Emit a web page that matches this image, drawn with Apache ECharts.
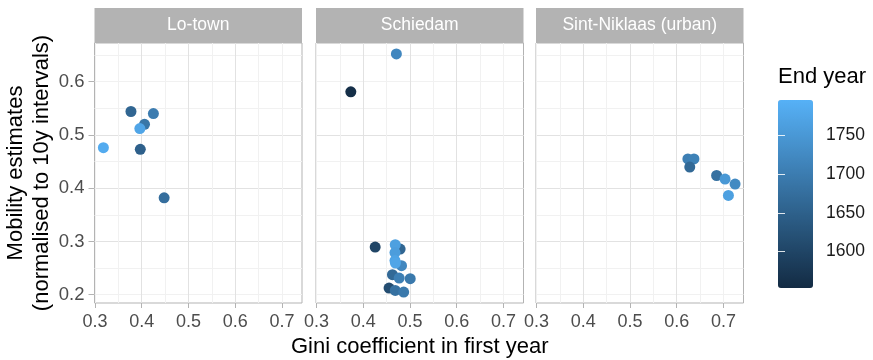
<!DOCTYPE html>
<html><head><meta charset="utf-8">
<script src="https://cdn.jsdelivr.net/npm/echarts@6/dist/echarts.min.js"></script>
<style>html,body{margin:0;padding:0;background:#fff}#c{width:873px;height:360px}</style>
</head><body><div id="c"></div>
<script>
// ---- data ----
const panels = ['Lo-town', 'Schiedam', 'Sint-Niklaas (urban)'];
const xTicks = [0.3, 0.4, 0.5, 0.6, 0.7];
const yTicks = [0.2, 0.3, 0.4, 0.5, 0.6];
const yearTicks = [1600, 1650, 1700, 1750];

const loTownGini = [0.377, 0.425, 0.406, 0.396, 0.318, 0.397, 0.448];
const loTownMob  = [0.544, 0.540, 0.520, 0.512, 0.476, 0.473, 0.382];
const loTownYear = [1660, 1700, 1690, 1775, 1785, 1650, 1675];

const schiedamGini = [0.471, 0.3735, 0.4256, 0.479, 0.4686, 0.468, 0.482, 0.468, 0.469, 0.4626, 0.477, 0.5006, 0.4553, 0.4686, 0.4866];
const schiedamMob  = [0.652, 0.581, 0.2895, 0.2857, 0.2938, 0.279, 0.2544, 0.264, 0.2595, 0.2375, 0.2313, 0.230, 0.2125, 0.208, 0.205];
const schiedamYear = [1720, 1560, 1600, 1660, 1765, 1760, 1720, 1770, 1775, 1665, 1705, 1695, 1615, 1680, 1695];

const sintGini = [0.624, 0.637, 0.628, 0.6855, 0.7035, 0.725, 0.7107];
const sintMob  = [0.455, 0.455, 0.4396, 0.4238, 0.417, 0.4077, 0.3863];
const sintYear = [1705, 1710, 1665, 1680, 1750, 1725, 1765];

const yearMin = 1553, yearMax = 1796;

// ---- chart ----
const FONT = "'Liberation Sans', Arial, Helvetica, sans-serif";
const zip = (a, b, c) => a.map((v, i) => [v, b[i], c[i]]);
const seriesData = [
  zip(loTownGini, loTownMob, loTownYear),
  zip(schiedamGini, schiedamMob, schiedamYear),
  zip(sintGini, sintMob, sintYear)
];

const lefts = [94.5, 316, 536];
const W = 207.5, TOP = 43, H = 260;
const XMIN = 0.299, XMAX = 0.743, YMIN = 0.1844, YMAX = 0.6726;

const grids = lefts.map(l => ({left: l, top: TOP, width: W, height: H, show: true,
  borderColor: '#b3b3b3', borderWidth: 1, backgroundColor: '#fff', containLabel: false, outerBoundsMode: 'none'}));
grids.push({left: 778, top: 100, width: 35, height: 188, show: false, containLabel: false, outerBoundsMode: 'none'});

const xAxis = [], yAxis = [];
// minor axes (indices 0..2)
lefts.forEach((l, i) => {
  xAxis.push({type: 'value', gridIndex: i, min: XMIN, max: XMAX, splitNumber: 10, position: 'bottom',
    axisLine: {show: false}, axisTick: {show: false}, axisLabel: {show: false},
    splitLine: {show: true, showMinLine: false, showMaxLine: false, lineStyle: {color: '#f1f1f1', width: 1}}});
  yAxis.push({type: 'value', gridIndex: i, min: YMIN, max: YMAX, splitNumber: 10, position: 'left',
    axisLine: {show: false}, axisTick: {show: false}, axisLabel: {show: false},
    splitLine: {show: true, showMinLine: false, showMaxLine: false, lineStyle: {color: '#f1f1f1', width: 1}}});
});
// major axes (indices 3..5)
lefts.forEach((l, i) => {
  xAxis.push({type: 'value', gridIndex: i, min: XMIN, max: XMAX, splitNumber: 5, position: 'bottom',
    name: i === 1 ? 'Gini coefficient in first year' : '', nameLocation: 'middle', nameGap: 25,
    nameTextStyle: {fontFamily: FONT, fontSize: 22, color: '#000'},
    axisLine: {show: false},
    axisTick: {show: true, length: 5, customValues: xTicks, lineStyle: {color: '#b3b3b3'}},
    axisLabel: {show: true, customValues: xTicks, margin: 10, color: '#4d4d4d', fontFamily: FONT, fontSize: 18,
      formatter: v => v.toFixed(1)},
    splitLine: {show: true, showMinLine: false, showMaxLine: false, lineStyle: {color: '#e2e2e2', width: 1}}});
  yAxis.push({type: 'value', gridIndex: i, min: YMIN, max: YMAX, splitNumber: 5, position: 'left',
    name: i === 0 ? 'Mobility estimates\n(normalised to 10y intervals)' : '', nameLocation: 'middle', nameGap: 40, nameRotate: 90,
    nameTextStyle: {fontFamily: FONT, fontSize: 22, color: '#000', lineHeight: 26},
    axisLine: {show: false},
    axisTick: {show: i === 0, length: 6, customValues: yTicks, lineStyle: {color: '#b3b3b3'}},
    axisLabel: {show: i === 0, customValues: yTicks, margin: 10, color: '#4d4d4d', fontFamily: FONT, fontSize: 18.5,
      formatter: v => v.toFixed(1)},
    splitLine: {show: true, showMinLine: false, showMaxLine: false, lineStyle: {color: '#e2e2e2', width: 1}}});
});
// legend colourbar axes (x index 6, y index 6 and 7)
xAxis.push({type: 'value', gridIndex: 3, show: false, min: 0, max: 1});
yAxis.push({type: 'value', gridIndex: 3, min: yearMin, max: yearMax, splitNumber: 5, position: 'right', z: 10,
  axisLine: {show: false},
  axisTick: {show: true, inside: true, length: 7, customValues: yearTicks, lineStyle: {color: 'rgba(255,255,255,0.85)', width: 1}},
  axisLabel: {show: true, customValues: yearTicks, margin: 13, color: '#1a1a1a', fontFamily: FONT, fontSize: 17.5,
    formatter: v => String(v)},
  splitLine: {show: false}});
yAxis.push({type: 'value', gridIndex: 3, min: yearMin, max: yearMax, splitNumber: 5, position: 'left', z: 10,
  axisLine: {show: false},
  axisTick: {show: true, inside: true, length: 7, customValues: yearTicks, lineStyle: {color: 'rgba(255,255,255,0.85)', width: 1}},
  axisLabel: {show: false}, splitLine: {show: false}});

const series = seriesData.map((d, i) => ({
  type: 'scatter', name: panels[i], xAxisIndex: 3 + i, yAxisIndex: 3 + i,
  data: d, symbol: 'circle', symbolSize: 11, encode: {x: 0, y: 1},
  itemStyle: {opacity: 1}, emphasis: {disabled: true}
}));

const graphic = [];
lefts.forEach((l, i) => {
  graphic.push({type: 'rect', left: l, top: 8, shape: {width: W, height: 35}, style: {fill: '#b3b3b3'}, silent: true});
  graphic.push({type: 'text', x: l + W / 2, y: 25.5, silent: true,
    style: {text: panels[i], fill: '#fff', font: '17.5px ' + FONT, align: 'center', verticalAlign: 'middle',
      textAlign: 'center', textVerticalAlign: 'middle'}});
});
graphic.push({type: 'text', x: 778, y: 77, silent: true,
  style: {text: 'End year', fill: '#000', font: '22px ' + FONT, align: 'left', verticalAlign: 'middle',
    textAlign: 'left', textVerticalAlign: 'middle'}});

const option = {
  animation: false,
  backgroundColor: '#fff',
  textStyle: {fontFamily: FONT},
  grid: grids,
  xAxis: xAxis,
  yAxis: yAxis,
  visualMap: {
    type: 'continuous', min: yearMin, max: yearMax, dimension: 2, seriesIndex: [0, 1, 2],
    inRange: {color: ['#132B43', '#56B1F7']},
    left: 778, top: 100, itemWidth: 35, itemHeight: 188, padding: 0,
    calculable: false, realtime: false, hoverLink: false, showLabel: false, text: null
  },
  graphic: graphic,
  series: series
};
const chart = echarts.init(document.getElementById('c'), null, {renderer: 'canvas'});
chart.setOption(option);
</script>
</body></html>
